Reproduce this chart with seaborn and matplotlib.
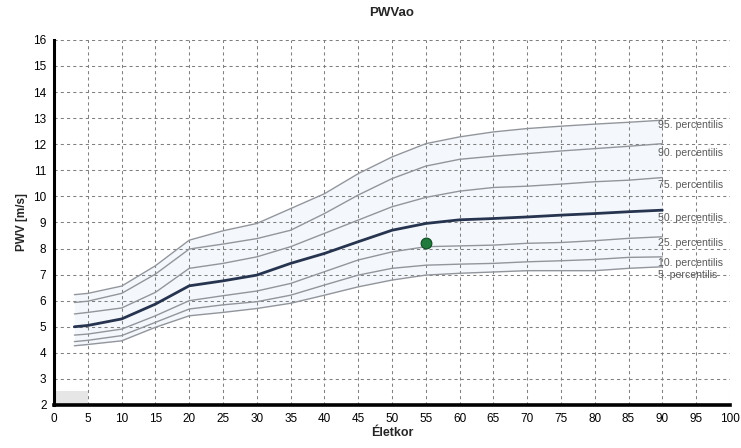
import seaborn as sns
import pandas as pd
import matplotlib.pyplot as plt
from matplotlib.patches import Rectangle

# age (Életkor) and PWV percentile curves
ages = [3, 5, 10, 15, 20, 25, 30, 35, 40, 45, 50, 55, 60, 65, 70, 75, 80, 85, 90]
p95 = [6.23, 6.28, 6.56, 7.34, 8.32, 8.68, 8.96, 9.53, 10.1, 10.87, 11.51, 12.02, 12.28, 12.47, 12.6, 12.69, 12.77, 12.84, 12.92]
p90 = [5.93, 5.98, 6.28, 7.02, 7.98, 8.17, 8.38, 8.7, 9.34, 10.05, 10.68, 11.16, 11.42, 11.54, 11.64, 11.74, 11.83, 11.92, 12.02]
p75 = [5.49, 5.55, 5.72, 6.32, 7.24, 7.43, 7.68, 8.07, 8.58, 9.09, 9.6, 9.96, 10.2, 10.34, 10.39, 10.47, 10.56, 10.62, 10.72]
p50 = [5.0, 5.05, 5.3, 5.87, 6.57, 6.76, 6.98, 7.43, 7.81, 8.26, 8.7, 8.96, 9.1, 9.15, 9.21, 9.28, 9.34, 9.41, 9.47]
p25 = [4.68, 4.72, 4.91, 5.42, 6.0, 6.19, 6.37, 6.66, 7.11, 7.56, 7.87, 8.07, 8.1, 8.13, 8.2, 8.23, 8.3, 8.39, 8.45]
p10 = [4.43, 4.48, 4.66, 5.17, 5.68, 5.84, 5.96, 6.21, 6.6, 6.98, 7.24, 7.36, 7.4, 7.43, 7.49, 7.53, 7.58, 7.66, 7.68]
p5 = [4.27, 4.32, 4.46, 4.98, 5.42, 5.55, 5.7, 5.9, 6.21, 6.53, 6.79, 6.98, 7.05, 7.1, 7.15, 7.15, 7.15, 7.24, 7.3]

label_names = ['95. percentilis', '90. percentilis', '75. percentilis', '50. percentilis',
               '25. percentilis', '10. percentilis', '5. percentilis']
label_y = [12.75, 11.68, 10.42, 9.17, 8.22, 7.45, 6.97]

patient_age = [55]
patient_pwv = [8.2]

series = {'95': p95, '90': p90, '75': p75, '50': p50, '25': p25, '10': p10, '5': p5}
rows = []
for name, vals in series.items():
    for a, v in zip(ages, vals):
        rows.append({'age': a, 'pwv': v, 'pct': name})
df = pd.DataFrame(rows)

sns.set_style("white")
plt.rcParams['font.family'] = ['Liberation Sans', 'DejaVu Sans']

fig = plt.figure(figsize=(7.41, 4.48), dpi=100)
ax = fig.add_axes([0.073, 0.096, 0.912, 0.815])

ax.fill_between(ages, p5, p95, color='#f4f7fb', zorder=0.1, lw=0)

others = df[df['pct'] != '50']
grey = {k: '#92969c' for k in series if k != '50'}
sns.lineplot(data=others, x='age', y='pwv', hue='pct', palette=grey, linewidth=1.0,
             legend=False, ax=ax, zorder=3)
sns.lineplot(data=df[df['pct'] == '50'], x='age', y='pwv', color='#27344f', linewidth=2.0,
             legend=False, ax=ax, zorder=4)

sns.scatterplot(x=patient_age, y=patient_pwv, color='#1f7a3c', edgecolor='#0f4a22', s=60,
                linewidth=0.8, ax=ax, zorder=5)

for txt, yy in zip(label_names, label_y):
    ax.text(89.4, yy, txt, fontsize=7.6, color='#5a5a5a', va='center', ha='left', zorder=6)

ax.set_xlim(0, 100)
ax.set_ylim(2, 16)
ax.set_xticks(range(0, 101, 5))
ax.set_yticks(range(2, 17))
ax.grid(True, color='#808080', linestyle=(0, (3, 3)), linewidth=0.75)
ax.set_axisbelow(True)

ax.add_patch(Rectangle((0, 2), 5, 0.55, color='#e6e6e6', lw=0, zorder=1))

for s in ['top', 'right']:
    ax.spines[s].set_visible(False)
ax.spines['left'].set_linewidth(2.2)
ax.spines['bottom'].set_linewidth(2.6)
ax.spines['left'].set_color('black')
ax.spines['bottom'].set_color('black')
ax.tick_params(axis='both', labelsize=8.5, length=4, width=1, direction='inout', colors='black')

ax.set_title('PWVao', fontsize=9.5, fontweight='bold', pad=17)
ax.set_xlabel('Életkor', fontsize=9, fontweight='bold', labelpad=2)
ax.set_ylabel('PWV [m/s]', fontsize=8.5, fontweight='bold', labelpad=4)

fig.savefig('out.png', dpi=100)
